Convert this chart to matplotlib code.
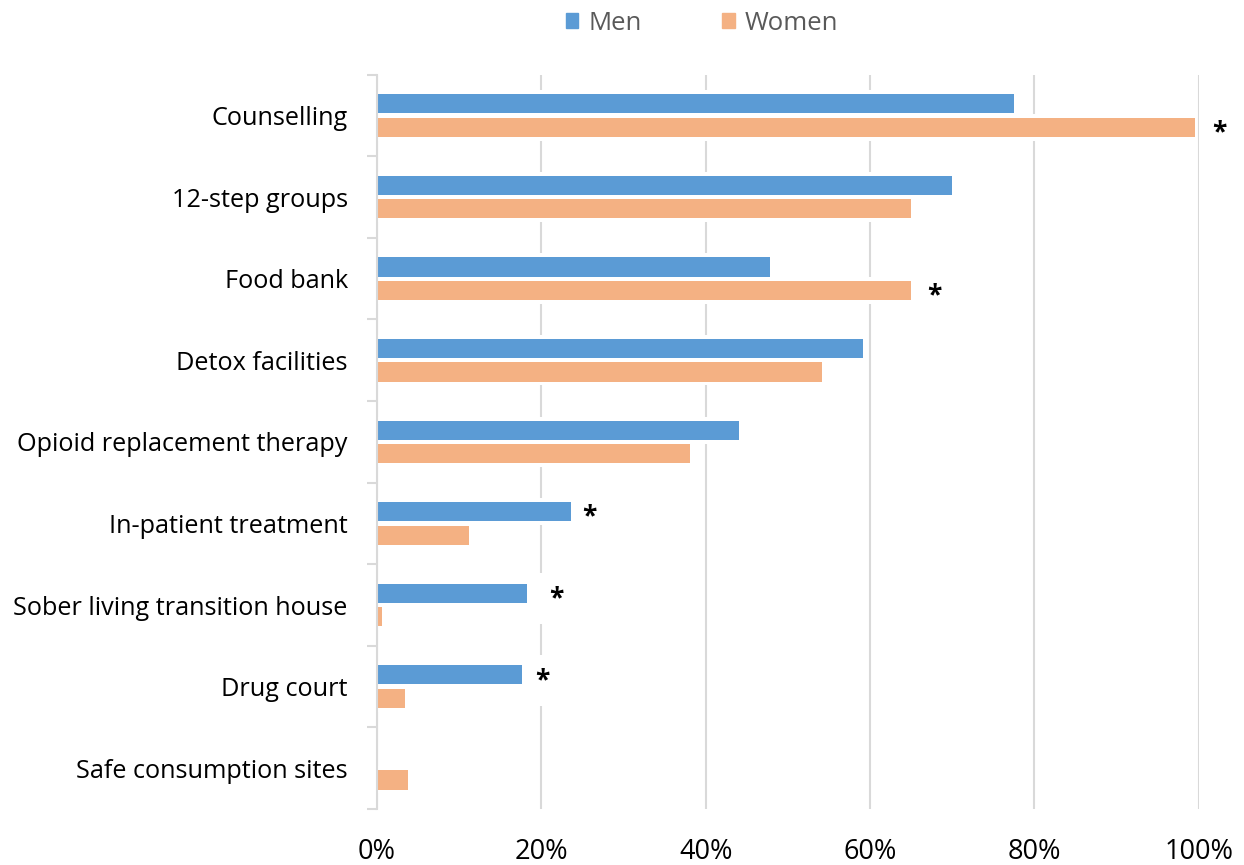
import matplotlib
matplotlib.use("Agg")
import matplotlib.pyplot as plt
import numpy as np
from matplotlib.patches import Patch

categories = [
    "Counselling",
    "12-step groups",
    "Food bank",
    "Detox facilities",
    "Opioid replacement therapy",
    "In-patient treatment",
    "Sober living transition house",
    "Drug court",
    "Safe consumption sites",
]
men = [77.5, 70.0, 47.8, 59.1, 44.1, 23.6, 18.2, 17.7, 0.0]
women = [99.6, 65.0, 65.0, 54.2, 38.1, 11.2, 0.6, 3.4, 3.8]

# significance markers: (category index, series, x position in %)
star_rows = [0, 2, 5, 6, 7]
star_series = ["women", "women", "men", "men", "men"]
star_x = [102.5, 67.8, 25.9, 21.8, 20.1]

xticks = [0, 20, 40, 60, 80, 100]
xtick_labels = ["0%", "20%", "40%", "60%", "80%", "100%"]

MEN_COLOR = "#5B9BD5"
WOMEN_COLOR = "#F4B183"
GRID_COLOR = "#D9D9D9"

plt.rcParams["font.family"] = ["Open Sans", "DejaVu Sans"]

W, H = 1244, 865
fig = plt.figure(figsize=(W / 100, H / 100), dpi=100)
left, right, top, bottom = 377, 1198.7, 74.7, 809
ax = fig.add_axes([left / W, 1 - bottom / H, (right - left) / W, (bottom - top) / H])

y = np.arange(len(categories))
off = 0.144
bar_h = 0.235
halo_h = 0.33

# white halo behind each bar hides the gridlines around it
ax.barh(y - off, men, height=halo_h, color="white", zorder=0.9)
ax.barh(y + off, women, height=halo_h, color="white", zorder=0.9)
ax.barh(y - off, men, height=bar_h, color=MEN_COLOR, zorder=1)
ax.barh(y + off, women, height=bar_h, color=WOMEN_COLOR, zorder=1)

for row, series, sx in zip(star_rows, star_series, star_x):
    sy = row - off if series == "men" else row + off
    ax.annotate("*", xy=(sx, sy), xytext=(0, -4), textcoords="offset points",
                ha="center", va="center", fontsize=19, fontweight="bold",
                color="black", zorder=0.8, annotation_clip=False,
                bbox=dict(boxstyle="square,pad=0.45", fc="white", ec="none"))

ax.set_xlim(0, 100)
ax.set_ylim(len(categories) - 0.5, -0.5)

ax.set_xticks(xticks)
ax.set_xticklabels(xtick_labels, fontsize=19.5)
ax.tick_params(axis="x", length=0, pad=21)

ax.set_yticks(y)
ax.set_yticklabels(categories, fontsize=18.2)
ax.tick_params(axis="y", which="major", length=0, pad=21)
ax.set_yticks(np.arange(len(categories) + 1) - 0.5, minor=True)
ax.tick_params(axis="y", which="minor", length=7.5, width=1.5, color=GRID_COLOR)

ax.grid(axis="x", color=GRID_COLOR, linewidth=1.5, zorder=0.5)
ax.set_axisbelow(True)

for side in ["top", "right", "bottom"]:
    ax.spines[side].set_visible(False)
ax.spines["left"].set_color(GRID_COLOR)
ax.spines["left"].set_linewidth(1.5)

handles = [Patch(color=MEN_COLOR, label="Men"), Patch(color=WOMEN_COLOR, label="Women")]
leg = fig.legend(handles=handles, loc="center", bbox_to_anchor=(702 / W, 1 - 23 / H),
                 ncol=2, frameon=False, fontsize=18.5, handlelength=0.5,
                 handleheight=0.5, handletextpad=0.4, columnspacing=3.1)
for t in leg.get_texts():
    t.set_color("#595959")

fig.savefig("out.png", dpi=100)
